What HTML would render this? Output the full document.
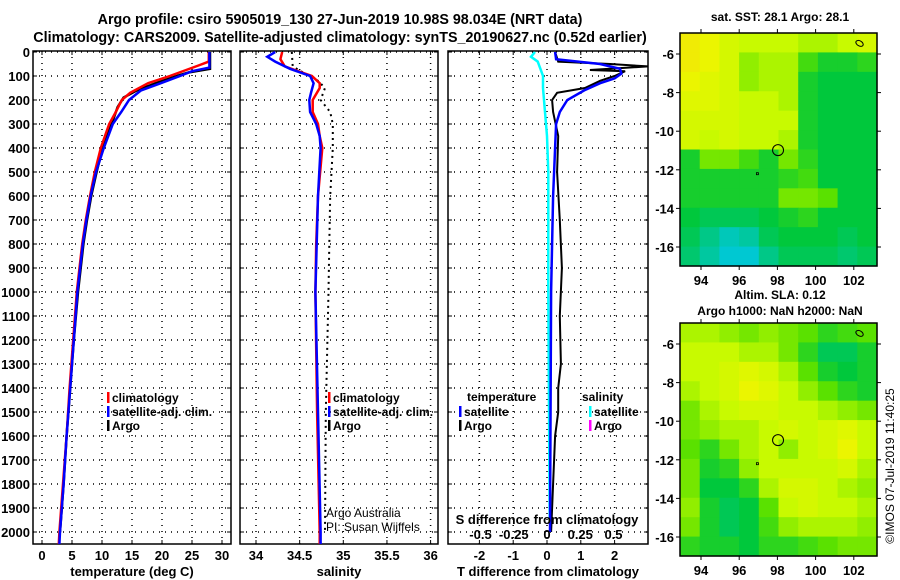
<!DOCTYPE html>
<html><head><meta charset="utf-8"><style>
html,body{margin:0;padding:0;background:#fff}
svg{display:block;font-family:"Liberation Sans",Arial,sans-serif;font-weight:bold}
</style></head><body>
<svg id="s" width="900" height="580" viewBox="0 0 900 580">
<text x="340" y="24" font-size="14.3" text-anchor="middle">Argo profile: csiro 5905019_130 27-Jun-2019 10.98S 98.034E (NRT data)</text>
<text x="340" y="42" font-size="14.3" text-anchor="middle">Climatology: CARS2009. Satellite-adjusted climatology: synTS_20190627.nc (0.52d earlier)</text>
</svg>
<script>
// ---------- data ----------
const depthTicks=[0,100,200,300,400,500,600,700,800,900,1000,1100,1200,1300,1400,1500,1600,1700,1800,1900,2000];
const tempTicks=[0,5,10,15,20,25,30];
const salTicks=[34,34.5,35,35.5,36];
const tdiffTicks=[-2,-1,0,1,2];
const sdiffTicks=[-0.5,-0.25,0,0.25,0.5];
const lonTicks=[94,96,98,100,102];
const latTicks=[-6,-8,-10,-12,-14,-16];

const tClimDepth=[0,40,54,100,130,170,200,250,300,400,500,600,700,800,1000,1200,1400,1600,1800,2000,2050];
const tClim=[27.8,27.8,26.3,21.3,17.7,14.7,13.3,12.3,11.2,9.8,8.8,8.0,7.3,6.7,5.8,5.2,4.6,4.1,3.5,2.9,2.8];
const tSatDepth=[0,65,80,100,130,160,200,250,300,400,500,600,700,800,1000,1200,1400,1600,1800,2000,2050];
const tSat=[27.9,27.9,25.0,23.0,19.8,16.5,14.5,13.2,11.8,10.3,9.0,8.1,7.4,6.8,5.9,5.3,4.7,4.1,3.6,3.0,2.9];
const tArgoDepth=[0,70,85,100,130,160,190,230,300,400,500,600,700,800,1000,1200,1400,1600,1800,2000];
const tArgo=[28.0,28.0,24.5,22.5,19.0,15.8,13.6,12.6,11.6,10.1,9.1,8.2,7.5,6.9,6.0,5.3,4.7,4.1,3.6,3.0];

const sClimDepth=[0,30,60,90,100,130,150,200,250,300,350,400,600,800,1000,1500,2000,2050];
const sClim=[34.30,34.28,34.33,34.56,34.64,34.73,34.73,34.65,34.65,34.71,34.73,34.76,34.71,34.69,34.68,34.70,34.73,34.73];
const sSatDepth=[0,20,40,70,100,130,170,200,250,300,350,400,600,1000,1500,2000,2050];
const sSat=[34.22,34.13,34.22,34.39,34.62,34.66,34.63,34.61,34.62,34.69,34.73,34.74,34.71,34.68,34.71,34.74,34.74];
const sArgoDepth=[0,60,90,120,150,200,250,300,400,600,800,1000,1500,2000];
const sArgo=[34.41,34.42,34.56,34.71,34.79,34.74,34.85,34.88,34.88,34.85,34.84,34.83,34.80,34.79];

const dTSatDepth=[0,30,50,70,90,110,130,160,200,250,300,400,600,1000,2000];
const dTSat=[0.24,0.27,1.57,2.16,2.2,2.0,1.57,1.1,0.6,0.38,0.27,0.24,0.18,0.12,0.09];
const dTArgoDepth=[0,40,50,60,75,80,100,120,150,170,200,250,350,500,700,900,1100,1300,1400,1500,1600,1800,2000];
const dTArgo=[0.24,0.33,1.87,2.99,1.27,2.31,2.0,1.57,1.12,0.3,0.15,0.18,0.33,0.3,0.38,0.44,0.38,0.41,0.33,0.33,0.24,0.18,0.12];
const dSSatDepth=[0,20,40,70,100,150,250,350,500,1000,1500,1950];
const dSSat=[-0.09,-0.12,-0.07,-0.05,-0.03,-0.03,-0.015,0,0.01,0.01,0.015,0.02];

const sstGrid=[
[.95,.9,.8,.75,.75,.75,.7,.7,.75,.8],
[.95,.9,.8,.65,.7,.7,.5,.4,.4,.45],
[.9,.85,.8,.65,.7,.7,.4,.35,.35,.35],
[.85,.85,.8,.75,.75,.7,.4,.35,.35,.35],
[.8,.8,.8,.75,.75,.75,.4,.35,.35,.35],
[.8,.75,.8,.75,.75,.7,.4,.35,.35,.35],
[.4,.6,.6,.5,.4,.6,.45,.35,.35,.35],
[.4,.4,.4,.4,.4,.45,.5,.35,.35,.35],
[.4,.4,.4,.4,.4,.6,.6,.55,.35,.35],
[.35,.3,.3,.3,.35,.4,.45,.35,.35,.35],
[.3,.2,.1,.15,.3,.35,.35,.35,.3,.35],
[.25,.15,.05,.05,.2,.3,.3,.3,.25,.3]];
const slaGrid=[
[.7,.7,.65,.6,.65,.6,.55,.45,.5,.55],
[.75,.75,.75,.7,.7,.6,.45,.3,.3,.4],
[.75,.75,.8,.85,.8,.7,.55,.4,.35,.4],
[.7,.75,.8,.9,.85,.75,.65,.55,.45,.4],
[.6,.7,.75,.8,.8,.75,.75,.7,.65,.6],
[.6,.65,.7,.7,.75,.8,.75,.8,.85,.75],
[.55,.45,.6,.7,.75,.65,.75,.8,.9,.75],
[.6,.4,.45,.65,.75,.75,.75,.75,.8,.7],
[.6,.35,.35,.45,.7,.8,.8,.75,.7,.65],
[.65,.4,.3,.35,.55,.75,.8,.75,.75,.7],
[.6,.4,.3,.35,.5,.65,.7,.7,.7,.65],
[.45,.4,.4,.35,.45,.45,.5,.55,.6,.6]];

// ---------- helpers ----------
const svg=document.getElementById('s');
const NS='http://www.w3.org/2000/svg';
function mk(tag,attrs,parent){const e=document.createElementNS(NS,tag);for(const k in attrs)e.setAttribute(k,attrs[k]);(parent||svg).appendChild(e);return e;}
function txt(x,y,s,size,anchor,parent,weight){const t=mk('text',{x:x,y:y,'font-size':size,'text-anchor':anchor||'middle'},parent);if(weight)t.setAttribute('font-weight',weight);t.textContent=s;return t;}
const yD=d=>52+d*0.24;
const PB=544;

function panel(name,x0,x1,xs,ticks,fmt,xlabel,showY){
  const g=mk('g',{});
  
  
  depthTicks.forEach(d=>{mk('line',{x1:x0,x2:x1,y1:yD(d),y2:yD(d),stroke:'#000','stroke-dasharray':'1 5','stroke-width':1.5},g);
    mk('line',{x1:x0,x2:x0+4,y1:yD(d),y2:yD(d),stroke:'#000'},g);mk('line',{x1:x1-4,x2:x1,y1:yD(d),y2:yD(d),stroke:'#000'},g);
    if(showY){const t=txt(30,yD(d)+5,String(d),13,'end',g);}});
  ticks.forEach(v=>{const x=xs(v);mk('line',{x1:x,x2:x,y1:51,y2:PB,stroke:'#000','stroke-dasharray':'1 5','stroke-width':1.5},g);
    mk('line',{x1:x,x2:x,y1:PB-4,y2:PB,stroke:'#000'},g);mk('line',{x1:x,x2:x,y1:51,y2:55,stroke:'#000'},g);
    const t=txt(x,560,fmt(v),13,'middle',g);});
  mk('rect',{x:x0,y:51,width:x1-x0,height:PB-51,fill:'none',stroke:'#000','stroke-width':1.5},g);
  const xl=txt((x0+x1)/2,576,xlabel,13,'middle',g);
  return g;
}
function line(xs,depths,vals,color,w,name,dash){
  const pts=depths.map((d,i)=>xs(vals[i]).toFixed(1)+','+yD(d).toFixed(1)).join(' ');
  const p=mk('polyline',{points:pts,fill:'none',stroke:color,'stroke-width':w});
  if(dash)p.setAttribute('stroke-dasharray',dash);
  
  
  return p;
}
function clip(id,x0,x1){const c=mk('clipPath',{id:id});mk('rect',{x:x0,y:51,width:x1-x0,height:PB-51},c);}

const xT=t=>42+t*6.0;
panel('temperature-panel',33,231,xT,tempTicks,v=>String(v),'temperature (deg C)',true);
clip('c1',33,231);
line(xT,tArgoDepth,tArgo,'#000',2.5,'argo-temperature-line').setAttribute('clip-path','url(#c1)');
line(xT,tClimDepth,tClim,'#f00',2.5,'climatology-temperature-line').setAttribute('clip-path','url(#c1)');
line(xT,tSatDepth,tSat,'#00f',2.5,'satellite-temperature-line').setAttribute('clip-path','url(#c1)');

const xS=s=>256+(s-34)*87.3;
panel('salinity-panel',240,438,xS,salTicks,v=>String(v),'salinity',false);
clip('c2',240,438);
line(xS,sArgoDepth,sArgo,'#000',2,'argo-salinity-line','2 4').setAttribute('clip-path','url(#c2)');
line(xS,sClimDepth,sClim,'#f00',2.5,'climatology-salinity-line').setAttribute('clip-path','url(#c2)');
line(xS,sSatDepth,sSat,'#00f',2.5,'satellite-salinity-line').setAttribute('clip-path','url(#c2)');

const xDT=t=>547+t*33.8;
const xDS=s=>547+s*133;
panel('difference-panel',448,648,xDT,tdiffTicks,v=>String(v),'T difference from climatology',false);
clip('c3',448,648);
line(xDS,dSSatDepth,dSSat,'#0ff',2.5,'salinity-diff-satellite-line').setAttribute('clip-path','url(#c3)');
line(xDT,dTArgoDepth,dTArgo,'#000',2,'temperature-diff-argo-line').setAttribute('clip-path','url(#c3)');
line(xDT,dTSatDepth,dTSat,'#00f',2.5,'temperature-diff-satellite-line').setAttribute('clip-path','url(#c3)');
const sdl=txt(547,524,'S difference from climatology',13,'middle');


sdiffTicks.forEach(v=>{const t=txt(xDS(v),539,String(v),13,'middle');
  
  });

function leg(x,y,color,label,name){
  const g=mk('g',{});
  
  
  mk('rect',{x:x,y:y-10,width:2.5,height:11,fill:color},g);
  txt(x+5,y,label,12,'start',g);
}
leg(107,402,'#f00','climatology','legend-climatology');
leg(107,416,'#00f','satellite-adj. clim.','legend-satellite');
leg(107,430,'#000','Argo','legend-argo');
leg(328,402,'#f00','climatology','legend-climatology-sal');
leg(328,416,'#00f','satellite-adj. clim.','legend-satellite-sal');
leg(328,430,'#000','Argo','legend-argo-sal');
txt(467,401,'temperature',12,'start');
leg(459,416,'#00f','satellite','legend-temp-satellite');
leg(459,430,'#000','Argo','legend-temp-argo');
txt(582,401,'salinity',12,'start');
leg(589,416,'#0ff','satellite','legend-sal-satellite');
leg(589,430,'#f0f','Argo','legend-sal-argo');
txt(326,517,'Argo Australia',12,'start',null,'normal');
txt(326,531,'PI: Susan Wijffels',12,'start',null,'normal');

function col(v){
  const stops=[[0,[0,200,235]],[0.35,[0,200,60]],[0.55,[90,225,0]],[0.75,[200,250,0]],[0.9,[235,245,0]],[1,[245,225,10]]];
  for(let i=1;i<stops.length;i++){if(v<=stops[i][0]){const a=stops[i-1],b=stops[i];const f=(v-a[0])/(b[0]-a[0]);
    return 'rgb('+a[1].map((c,k)=>Math.round(c+(b[1][k]-c)*f)).join(',')+')';}}
  return 'rgb(245,225,10)';
}
function map(name,top,grid,title1,title2){
  const L=680,R=877,B=top+233;
  const lonX=lon=>701+(lon-94)*19.1;
  const latY=lat=>top+21+(-6-lat)*19.3;
  const g=mk('g',{});
  
  
  const rows=grid.length,cols=grid[0].length;
  const cw=(R-L)/cols,ch=(B-top)/rows;
  grid.forEach((row,r)=>row.forEach((v,c)=>{
    const cell=mk('rect',{x:L+c*cw,y:top+r*ch,width:cw+0.6,height:ch+0.6,fill:col(v)},g);
    
    
  }));
  mk('rect',{x:L,y:top,width:R-L,height:B-top,fill:'none',stroke:'#000','stroke-width':1.5},g);
  lonTicks.forEach(lon=>{const x=lonX(lon);mk('line',{x1:x,x2:x,y1:top-4,y2:top,stroke:'#000'},g);mk('line',{x1:x,x2:x,y1:B,y2:B+4,stroke:'#000'},g);txt(x,B+19,String(lon),13,'middle',g);});
  latTicks.forEach(lat=>{const y=latY(lat);mk('line',{x1:L-4,x2:L,y1:y,y2:y,stroke:'#000'},g);mk('line',{x1:R,x2:R+4,y1:y,y2:y,stroke:'#000'},g);txt(L-6,y+5,String(lat),13,'end',g);});
  const pt=mk('circle',{cx:lonX(98.034),cy:latY(-10.98),r:5.5,fill:'none',stroke:'#000'},g);
  
  
  mk('ellipse',{cx:lonX(102.3),cy:latY(-5.45),rx:4,ry:2.5,fill:'none',stroke:'#000',transform:'rotate(30 '+lonX(102.3)+' '+latY(-5.45)+')'},g);
  mk('rect',{x:lonX(96.9),y:latY(-12.15),width:2,height:2,fill:'none',stroke:'#000','stroke-width':0.8},g);
  txt(780,top-(title2?24:12),title1,12,'middle',g);
  if(title2)txt(780,top-8,title2,12,'middle',g);
}
map('sst-map',33,sstGrid,'sat. SST: 28.1 Argo: 28.1');
map('sla-map',323,slaGrid,'Altim. SLA: 0.12','Argo h1000: NaN h2000: NaN');
const cr=txt(0,0,'©IMOS 07-Jul-2019 11:40:25',12,'middle',null,'normal');
cr.setAttribute('transform','translate(894,466) rotate(-90)');


</script>
</body></html>
